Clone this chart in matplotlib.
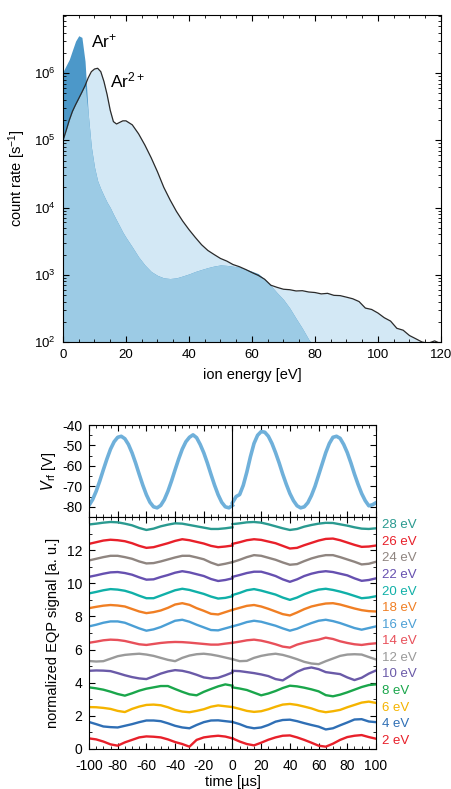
import numpy as np
import matplotlib
matplotlib.use("Agg")
import matplotlib.pyplot as plt
from matplotlib.ticker import MultipleLocator, LogLocator, NullFormatter

plt.rcParams['font.family'] = ['Liberation Sans', 'DejaVu Sans']
plt.rcParams['mathtext.default'] = 'regular'
plt.rcParams['axes.unicode_minus'] = False

# ---- top panel: ion energy distributions ----
energy = [0, 1, 2, 3, 4, 5, 6, 7, 8, 9, 10, 11, 12, 13, 14, 15, 16, 17, 18, 19, 20,
          22, 24, 26, 28, 30, 32, 34, 36, 38, 40, 42, 44, 46, 48, 50, 52, 54, 56, 58, 60,
          62, 64, 66, 68, 70, 72, 74, 76, 78, 80, 82, 84, 86, 88, 90, 92, 94, 96, 98, 100,
          102, 104, 106, 108, 110, 112, 114, 116, 118, 120]
ar2_rate = [1.0e5, 1.4e5, 2.0e5, 2.7e5, 3.4e5, 4.2e5, 5.2e5, 6.5e5, 8.5e5, 1.05e6, 1.15e6,
            1.18e6, 1.05e6, 7.5e5, 4.8e5, 2.8e5, 1.9e5, 1.75e5, 1.85e5, 1.95e5, 1.95e5,
            1.7e5, 1.25e5, 8.5e4, 5.5e4, 3.4e4, 2.0e4, 1.3e4, 8.8e3, 6.3e3, 4.7e3,
            3.6e3, 2.8e3, 2.3e3, 2.0e3, 1.75e3, 1.6e3, 1.42e3, 1.32e3, 1.2e3, 1.08e3,
            980, 860, 700, 650, 610, 600, 575, 580, 555, 545, 520, 530, 495, 490, 465,
            440, 400, 320, 305, 270, 230, 205, 160, 150, 125, 112, 100, 96, 104, 94]
ar1_energy = energy[:51]
ar1_rate = [1.05e6, 1.3e6, 1.6e6, 2.2e6, 3.0e6, 3.6e6, 3.4e6, 1.5e6, 2.5e5, 8.0e4, 4.0e4,
            2.5e4, 1.9e4, 1.5e4, 1.2e4, 1.0e4, 8.0e3, 6.5e3, 5.3e3, 4.3e3, 3.6e3,
            2.6e3, 1.85e3, 1.4e3, 1.12e3, 980, 900, 880, 900, 960, 1.03e3,
            1.12e3, 1.2e3, 1.28e3, 1.35e3, 1.4e3, 1.38e3, 1.34e3, 1.3e3, 1.22e3, 1.13e3,
            1.04e3, 870, 690, 540, 430, 320, 225, 160, 110, 80]

# ---- bottom panels ----
t_left = np.arange(-100, 0.1, 5)
t_right = np.arange(0, 100.1, 5)
t_rf_left = np.arange(-100, 0.1, 2.5)
t_rf_right = np.arange(0, 100.1, 2.5)

vrf_left = [-79.3, -76.5, -72.4, -67.4, -61.9, -56.6, -51.8, -48.2, -46.0, -45.5, -46.7,
            -49.5, -53.6, -58.6, -64.1, -69.4, -74.1, -77.8, -80.0, -80.5, -79.3, -76.5,
            -72.4, -67.4, -61.9, -56.6, -51.8, -48.2, -46.0, -44.8, -46.2, -49.5, -53.6,
            -58.6, -64.1, -69.4, -74.1, -77.8, -80.0, -80.5, -79.3]
vrf_right = [-78, -75, -74, -69.5, -63, -55.5, -49, -45, -43.2, -43.5, -45.5, -49, -53.5,
             -58.5, -64, -69, -73.5, -77, -79.5, -80.5, -80, -78, -74.5, -70, -64.5, -59,
             -53.5, -49, -46, -45.5, -46.5, -49.5, -53.5, -58.5, -64, -69, -73.5, -77,
             -79.5, -79, -78]

eqp_energies = [2, 4, 6, 8, 10, 12, 14, 16, 18, 20, 22, 24, 26, 28]
eqp_colors = ['#e8202a', '#2f6fb5', '#f5b400', '#1aa64b', '#6a5aa8', '#9a9a9a', '#e8505a',
              '#4b9fd5', '#f07f24', '#10b0a8', '#6650b0', '#8f8580', '#e8202a', '#2a9a90']

# each list: 21 values for t = -100..0, then 21 values for t = 0..100
sig_02 = [0.64, 0.58, 0.45, 0.28, 0.20, 0.40, 0.55, 0.70, 0.76, 0.74, 0.70, 0.58, 0.42, 0.30, 0.14, 0.55, 0.70, 0.76, 0.80, 0.75, 0.64,
          0.64, 0.45, 0.30, 0.22, 0.38, 0.56, 0.70, 0.80, 0.82, 0.70, 0.55, 0.38, 0.20, 0.14, 0.32, 0.55, 0.72, 0.80, 0.84, 0.72, 0.62]
sig_04 = [1.63, 1.50, 1.36, 1.32, 1.30, 1.40, 1.50, 1.62, 1.72, 1.72, 1.68, 1.55, 1.40, 1.30, 1.25, 1.45, 1.62, 1.72, 1.73, 1.68, 1.63,
          1.63, 1.50, 1.33, 1.25, 1.30, 1.45, 1.65, 1.75, 1.77, 1.68, 1.56, 1.45, 1.35, 1.18, 1.25, 1.43, 1.60, 1.78, 1.80, 1.66, 1.62]
sig_06 = [2.53, 2.52, 2.48, 2.42, 2.30, 2.23, 2.42, 2.56, 2.66, 2.68, 2.64, 2.52, 2.36, 2.26, 2.22, 2.30, 2.40, 2.55, 2.63, 2.58, 2.53,
          2.53, 2.42, 2.30, 2.24, 2.28, 2.40, 2.55, 2.68, 2.72, 2.66, 2.56, 2.45, 2.30, 2.22, 2.28, 2.36, 2.52, 2.66, 2.80, 2.86, 2.78]
sig_08 = [3.72, 3.66, 3.58, 3.46, 3.32, 3.22, 3.36, 3.52, 3.64, 3.72, 3.80, 3.80, 3.62, 3.45, 3.30, 3.24, 3.45, 3.62, 3.78, 3.90, 3.82,
          3.72, 3.65, 3.56, 3.40, 3.24, 3.35, 3.50, 3.68, 3.82, 3.78, 3.70, 3.60, 3.48, 3.25, 3.18, 3.28, 3.42, 3.58, 3.74, 3.86, 3.90]
sig_10 = [4.72, 4.74, 4.73, 4.70, 4.58, 4.45, 4.34, 4.26, 4.22, 4.38, 4.55, 4.68, 4.76, 4.72, 4.62, 4.48, 4.32, 4.26, 4.30, 4.45, 4.62,
          4.72, 4.70, 4.64, 4.58, 4.50, 4.40, 4.22, 4.14, 4.40, 4.66, 4.84, 4.92, 4.82, 4.64, 4.58, 4.52, 4.32, 4.16, 4.30, 4.55, 4.74]
sig_12 = [5.31, 5.28, 5.30, 5.45, 5.60, 5.68, 5.72, 5.75, 5.70, 5.62, 5.50, 5.38, 5.30, 5.50, 5.64, 5.72, 5.75, 5.70, 5.62, 5.52, 5.42,
          5.42, 5.30, 5.32, 5.50, 5.62, 5.70, 5.75, 5.68, 5.56, 5.42, 5.26, 5.16, 5.12, 5.30, 5.46, 5.62, 5.70, 5.72, 5.70, 5.55, 5.40]
sig_14 = [6.41, 6.48, 6.56, 6.60, 6.58, 6.52, 6.42, 6.32, 6.28, 6.34, 6.40, 6.44, 6.46, 6.45, 6.42, 6.38, 6.34, 6.30, 6.30, 6.36, 6.41,
          6.41, 6.48, 6.56, 6.60, 6.54, 6.44, 6.32, 6.18, 6.12, 6.30, 6.42, 6.52, 6.60, 6.72, 6.64, 6.50, 6.40, 6.32, 6.28, 6.34, 6.38]
sig_16 = [7.40, 7.50, 7.62, 7.70, 7.70, 7.62, 7.45, 7.28, 7.14, 7.22, 7.36, 7.55, 7.74, 7.80, 7.68, 7.50, 7.34, 7.18, 7.16, 7.28, 7.40,
          7.40, 7.52, 7.66, 7.74, 7.68, 7.56, 7.44, 7.28, 7.14, 7.26, 7.44, 7.60, 7.74, 7.80, 7.72, 7.60, 7.45, 7.30, 7.20, 7.30, 7.40]
sig_18 = [8.50, 8.58, 8.65, 8.69, 8.66, 8.60, 8.45, 8.30, 8.20, 8.26, 8.36, 8.52, 8.72, 8.80, 8.70, 8.50, 8.34, 8.16, 8.12, 8.26, 8.40,
          8.40, 8.52, 8.64, 8.69, 8.60, 8.46, 8.30, 8.14, 8.06, 8.24, 8.44, 8.60, 8.70, 8.78, 8.80, 8.72, 8.60, 8.48, 8.38, 8.32, 8.30]
sig_20 = [9.39, 9.48, 9.58, 9.65, 9.62, 9.55, 9.42, 9.25, 9.10, 9.10, 9.26, 9.42, 9.58, 9.67, 9.60, 9.48, 9.36, 9.20, 9.08, 9.12, 9.22,
          9.29, 9.42, 9.58, 9.65, 9.56, 9.44, 9.32, 9.14, 9.00, 9.14, 9.34, 9.50, 9.62, 9.67, 9.60, 9.50, 9.38, 9.24, 9.10, 9.14, 9.22]
sig_22 = [10.39, 10.48, 10.58, 10.66, 10.68, 10.62, 10.52, 10.36, 10.22, 10.24, 10.38, 10.50, 10.64, 10.73, 10.66, 10.55, 10.44, 10.26, 10.14, 10.20, 10.30,
          10.39, 10.50, 10.62, 10.70, 10.70, 10.58, 10.44, 10.24, 10.09, 10.24, 10.44, 10.58, 10.68, 10.73, 10.68, 10.58, 10.48, 10.30, 10.15, 10.20, 10.30]
sig_24 = [11.38, 11.48, 11.58, 11.66, 11.66, 11.58, 11.48, 11.32, 11.20, 11.22, 11.32, 11.44, 11.56, 11.66, 11.66, 11.56, 11.45, 11.25, 11.10, 11.18, 11.28,
          11.28, 11.42, 11.58, 11.70, 11.66, 11.54, 11.42, 11.26, 11.12, 11.16, 11.34, 11.50, 11.62, 11.70, 11.70, 11.58, 11.44, 11.30, 11.14, 11.18, 11.30]
sig_26 = [12.38, 12.48, 12.58, 12.63, 12.60, 12.54, 12.42, 12.26, 12.14, 12.18, 12.30, 12.42, 12.56, 12.66, 12.60, 12.50, 12.40, 12.26, 12.18, 12.22, 12.28,
          12.38, 12.48, 12.60, 12.66, 12.62, 12.52, 12.42, 12.26, 12.10, 12.14, 12.30, 12.44, 12.58, 12.68, 12.70, 12.60, 12.46, 12.32, 12.20, 12.22, 12.28]
sig_28 = [13.55, 13.60, 13.66, 13.70, 13.68, 13.60, 13.50, 13.34, 13.22, 13.30, 13.44, 13.54, 13.62, 13.60, 13.52, 13.44, 13.36, 13.28, 13.28, 13.32, 13.38,
          13.57, 13.62, 13.68, 13.70, 13.66, 13.56, 13.44, 13.32, 13.22, 13.28, 13.42, 13.52, 13.60, 13.65, 13.64, 13.56, 13.48, 13.38, 13.30, 13.28, 13.32]
eqp_signals = [sig_02, sig_04, sig_06, sig_08, sig_10, sig_12, sig_14,
               sig_16, sig_18, sig_20, sig_22, sig_24, sig_26, sig_28]


def style_axis(ax, size):
    ax.tick_params(which='both', direction='in', top=True, right=True, labelsize=size, pad=5)
    ax.tick_params(which='major', length=4, width=0.8)
    ax.tick_params(which='minor', length=2, width=0.6)


fig = plt.figure(figsize=(4.51, 7.89), dpi=100)

# top panel
ax1 = fig.add_axes([0.1397, 0.5665, 0.838, 0.4144])
e = np.array(energy, dtype=float)
a2 = np.array(ar2_rate, dtype=float)
e1 = np.array(ar1_energy, dtype=float)
a1 = np.array(ar1_rate, dtype=float)
ax1.fill_between(e, 1, a2, color='#d3e8f5', lw=0)
ax1.fill_between(e1, 1, a1, color='#4c98c9', lw=0)
ax1.fill_between(e1, 1, np.minimum(a1, a2[:len(a1)]), color='#9ccbe5', lw=0)
ax1.plot(e, a2, color='#2a2a2a', lw=0.9)
ax1.set_yscale('log')
ax1.set_xlim(0, 120)
ax1.set_ylim(1e2, 7.3e6)
ax1.xaxis.set_major_locator(MultipleLocator(20))
ax1.xaxis.set_minor_locator(MultipleLocator(5))
ax1.yaxis.set_minor_locator(LogLocator(base=10, subs=np.arange(2, 10)))
ax1.yaxis.set_minor_formatter(NullFormatter())
style_axis(ax1, 9.5)
ax1.set_xlabel('ion energy [eV]', fontsize=10.5, labelpad=5)
ax1.set_ylabel('count rate [s$^{-1}$]', fontsize=10.5)
ax1.yaxis.set_label_coords(-0.092, 0.5)
ax1.text(8.9, 2.4e6, 'Ar$^{+}$', fontsize=12.5)
ax1.text(14.9, 6.2e5, 'Ar$^{2+}$', fontsize=12.5)

# V_rf panel
ax2 = fig.add_axes([0.1973, 0.3447, 0.6364, 0.1166])
ax2.plot(t_rf_left, vrf_left, color='#6fb0da', lw=2.6)
ax2.plot(t_rf_right, vrf_right, color='#6fb0da', lw=2.6)
ax2.axvline(0, color='black', lw=0.8)
ax2.set_xlim(-100, 100)
ax2.set_ylim(-85, -40)
ax2.xaxis.set_major_locator(MultipleLocator(20))
ax2.xaxis.set_minor_locator(MultipleLocator(5))
ax2.yaxis.set_major_locator(MultipleLocator(10))
ax2.yaxis.set_minor_locator(MultipleLocator(5))
style_axis(ax2, 10)
ax2.tick_params(labelbottom=False)
ax2.set_ylabel(r'$\mathit{V}_{rf}$ [V]', fontsize=10.5)
ax2.yaxis.set_label_coords(-0.108, 0.5)

# EQP panel
ax3 = fig.add_axes([0.1973, 0.0507, 0.6364, 0.294])
for en, col, sig in zip(eqp_energies, eqp_colors, eqp_signals):
    ax3.plot(t_left, sig[:21], color=col, lw=1.7)
    ax3.plot(t_right, sig[21:], color=col, lw=1.7)
    ax3.text(104, en / 2 - 0.5, f'{en} eV', color=col, fontsize=9.5,
             ha='left', va='center', clip_on=False)
ax3.axvline(0, color='black', lw=0.8)
ax3.set_xlim(-100, 100)
ax3.set_ylim(0, 14)
ax3.set_yticks([0, 2, 4, 6, 8, 10, 12])
ax3.xaxis.set_major_locator(MultipleLocator(20))
ax3.xaxis.set_minor_locator(MultipleLocator(5))
ax3.yaxis.set_minor_locator(MultipleLocator(1))
style_axis(ax3, 10)
ax3.tick_params(axis='x', pad=7)
ax3.set_xlabel('time [µs]', fontsize=10.5, labelpad=2)
ax3.set_ylabel('normalized EQP signal [a. u.]', fontsize=10.5)
ax3.yaxis.set_label_coords(-0.10, 0.5)

fig.savefig('out.png', dpi=100)
